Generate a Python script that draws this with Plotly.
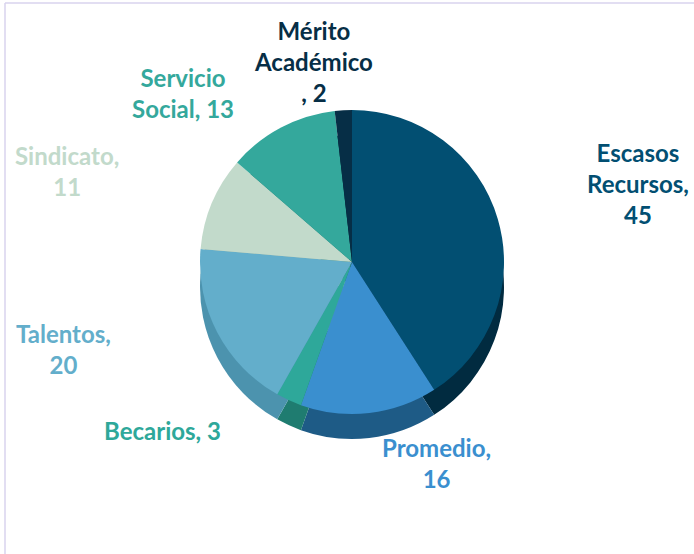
import plotly.graph_objects as go

categories = ["Escasos Recursos", "Promedio", "Becarios", "Talentos",
              "Sindicato", "Servicio Social", "Mérito Académico"]
values = [45, 16, 3, 20, 11, 13, 2]
label_text = ["Escasos<br>Recursos,<br>45", "Promedio,<br>16", "Becarios, 3",
              "Talentos,<br>20", "Sindicato,<br>11", "Servicio<br>Social, 13",
              "Mérito<br>Académico<br>, 2"]

top_colors = ["#024F72", "#3A8FCF", "#2EA89A", "#63AECB", "#C2DACB", "#34A89C", "#062E46"]
side_colors = ["#012B40", "#1E5B86", "#1F7C70", "#4C93AE", "#9DB8A9", "#23786F", "#031C2C"]
label_colors = ["#024F72", "#3A8FCF", "#2EA89A", "#63AECB", "#C2DACB", "#34A89C", "#062E46"]

# label anchor positions (pixels, from top-left of 694x554 canvas)
label_pos = [(638, 183), (436, 463), (162, 430), (63, 349),
             (67, 171), (183, 93), (313, 61)]

W, H = 694, 554
cx, cy, r = 352, 262, 152
depth = 25

def dom(cx, cy, r):
    return dict(x=[(cx - r) / W, (cx + r) / W],
                y=[(H - cy - r) / H, (H - cy + r) / H])

fig = go.Figure()
fig.add_trace(go.Pie(
    labels=categories, values=values, sort=False, direction="clockwise",
    rotation=0, marker=dict(colors=side_colors, line=dict(width=0)),
    textinfo="none", hoverinfo="skip", showlegend=False,
    domain=dom(cx, cy + depth, r)))
fig.add_trace(go.Pie(
    labels=categories, values=values, sort=False, direction="clockwise",
    rotation=0, marker=dict(colors=top_colors, line=dict(width=0)),
    textinfo="none", showlegend=False,
    domain=dom(cx, cy, r)))

for txt, col, (x, y) in zip(label_text, label_colors, label_pos):
    fig.add_annotation(x=x / W, y=1 - y / H, xref="paper", yref="paper",
                       text=txt, showarrow=False, align="center",
                       xanchor="center", yanchor="middle",
                       font=dict(family="Lato", size=24, color=col, weight="bold"))

fig.update_layout(
    width=W, height=H, margin=dict(l=0, r=0, t=0, b=0),
    paper_bgcolor="white", plot_bgcolor="white",
    shapes=[
        dict(type="line", xref="paper", yref="paper", x0=5 / W, x1=1, y0=1 - 3 / H, y1=1 - 3 / H,
             line=dict(color="#D8D3EE", width=1.5)),
        dict(type="line", xref="paper", yref="paper", x0=5 / W, x1=5 / W, y0=0, y1=1 - 3 / H,
             line=dict(color="#D8D3EE", width=1.5)),
    ],
)

fig.write_html("out.html", config={"displayModeBar": False},
               post_script="document.body.style.margin='0px';document.body.style.overflow='hidden';")
